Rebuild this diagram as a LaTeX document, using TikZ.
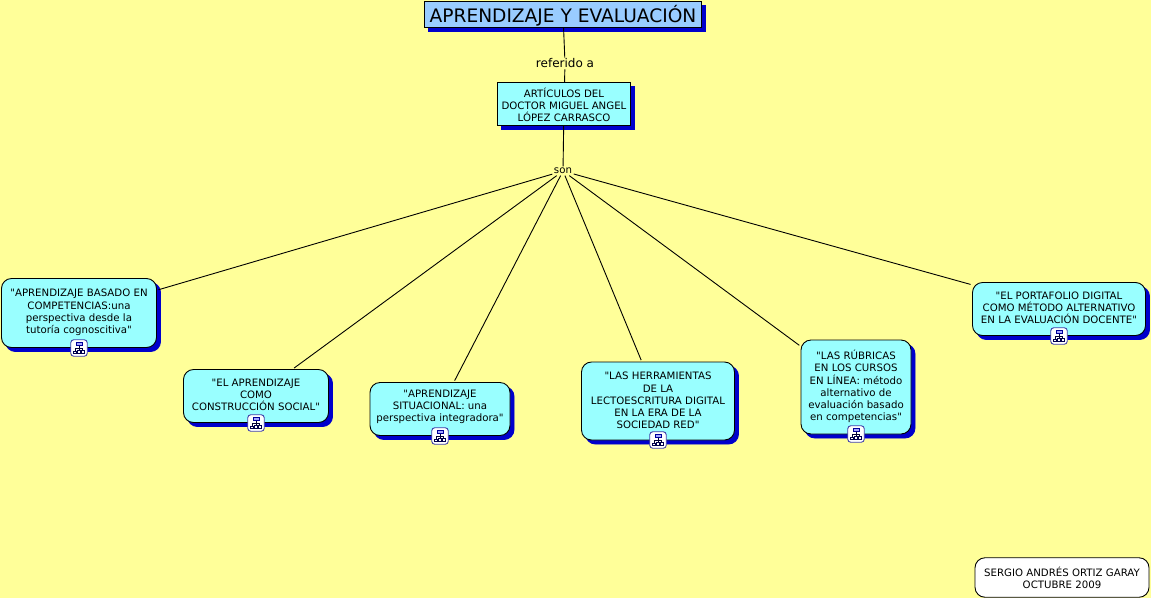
\documentclass[tikz,border=0pt]{standalone}
\usepackage{fontspec}
\newfontfamily\vf{DejaVu Sans}
\usetikzlibrary{shadows}
\definecolor{bgy}{HTML}{FFFF99}
\definecolor{cy}{HTML}{99FFFF}
\definecolor{tb}{HTML}{99CCFF}
\definecolor{sh}{HTML}{0000CC}
\tikzset{
  conn/.style={draw=black,line width=0.9pt},
  base/.style={draw=black,line width=0.9pt,fill=cy,inner sep=0pt,outer sep=0.5pt},
  shad/.style={copy shadow={shadow xshift=#1,shadow yshift=#1,fill=sh,draw=sh,opacity=1}},
  sq/.style={base,shad=4},
  rnd/.style={base,shad=4,rounded corners=10pt},
  txt/.style={align=center,font=\vf\fontsize{10.2}{12.2}\selectfont,inner sep=0pt},
  lnk/.style={fill=bgy,inner sep=1.5pt,text=black},
  icon/.style={draw=blue!55!black!75,fill=white,rounded corners=3pt,line width=0.9pt,minimum width=16.5pt,minimum height=16.5pt,inner sep=0pt},
  pics/tree/.style={code={
    \draw[draw=black!80!blue,line width=0.8pt] (0,-3)--(0,3) (-3.8,0.5)--(3.8,0.5) (-3.8,0.5)--(-3.8,3) (3.8,0.5)--(3.8,2);
    \draw[draw=blue!60!black,fill=blue!35!white,line width=0.8pt] (-3,-6) rectangle (3,-3);
    \draw[draw=black!70!blue,fill=white,line width=0.8pt] (-5.6,3) rectangle (-2.4,5.8) (-1.3,2.5) rectangle (1.3,5) (2.4,2) rectangle (5.6,5);
  }}
}
\newcommand{\iconat}[2]{\node[icon] (#2) at #1 {}; \pic at #1 {tree};}
\begin{document}
\begin{tikzpicture}[x=1pt,y=-1pt]
\useasboundingbox (0,0) rectangle (1151,598);
\fill[bgy] (0,0) rectangle (1151,598);
% boxes
\node[sq,fill=tb,minimum width=277pt,minimum height=26pt] (title) at (563,14.2) {};
\node[txt,font=\vf\fontsize{18.6}{22}\selectfont] (titletxt) at (563,15.5) {APRENDIZAJE Y EVALUACIÓN};
\node[sq,minimum width=133pt,minimum height=43pt] (art) at (564,104) {};
\node[txt] (arttxt) at (564,105) {ARTÍCULOS DEL\\DOCTOR MIGUEL ANGEL\\LÓPEZ CARRASCO};
\node[rnd,minimum width=155pt,minimum height=69pt] (n1) at (79,313) {};
\node[txt] (n1t) at (79,312.5) {"APRENDIZAJE BASADO EN\\COMPETENCIAS:una\\perspectiva desde la\\tutoría cognoscitiva"};
\node[rnd,minimum width=145pt,minimum height=53pt] (n2) at (256,396) {};
\node[txt] (n2t) at (256,395) {"EL APRENDIZAJE\\COMO\\CONSTRUCCIÓN SOCIAL"};
\node[rnd,minimum width=140pt,minimum height=53pt] (n3) at (440,409) {};
\node[txt] (n3t) at (440,407) {"APRENDIZAJE\\SITUACIONAL: una\\perspectiva integradora"};
\node[rnd,minimum width=153pt,minimum height=78pt] (n4) at (658,401) {};
\node[txt] (n4t) at (658,400.5) {"LAS HERRAMIENTAS\\DE LA\\LECTOESCRITURA DIGITAL\\EN LA ERA DE LA\\SOCIEDAD RED"};
\node[rnd,minimum width=110pt,minimum height=94pt] (n5) at (856,387) {};
\node[txt] (n5t) at (856,386.5) {"LAS RÚBRICAS\\EN LOS CURSOS\\EN LÍNEA: método\\alternativo de\\evaluación basado\\en competencias"};
\node[rnd,minimum width=173pt,minimum height=53pt] (n6) at (1059,309) {};
\node[txt] (n6t) at (1059,308) {"EL PORTAFOLIO DIGITAL\\COMO MÉTODO ALTERNATIVO\\EN LA EVALUACIÓN DOCENTE"};
\node[base,fill=white,rounded corners=10pt,minimum width=174pt,minimum height=39.5pt] (foot) at (1062,577.5) {};
\node[txt] (foott) at (1062,577.5) {SERGIO ANDRÉS ORTIZ GARAY\\OCTUBRE 2009};
% link labels
\node[lnk,font=\vf\fontsize{12}{14}\selectfont] (ref) at (565,63) {referido a};
\node[lnk,font=\vf\fontsize{10.2}{12}\selectfont] (son) at (563,171) {son};
% connectors
\draw[conn,shorten >=-1pt] (title) -- (ref);
\draw[conn] (ref) -- (art);
\draw[conn] (art) -- (son);
\foreach \t in {n1,n2,n3,n4,n5,n6} {\draw[conn,shorten >=1.5pt] (son) -- (\t);}
% icons
\iconat{(79,348)}{i1}
\iconat{(256,423)}{i2}
\iconat{(440,436)}{i3}
\iconat{(658,440)}{i4}
\iconat{(856,434)}{i5}
\iconat{(1059,336)}{i6}
\end{tikzpicture}
\end{document}
